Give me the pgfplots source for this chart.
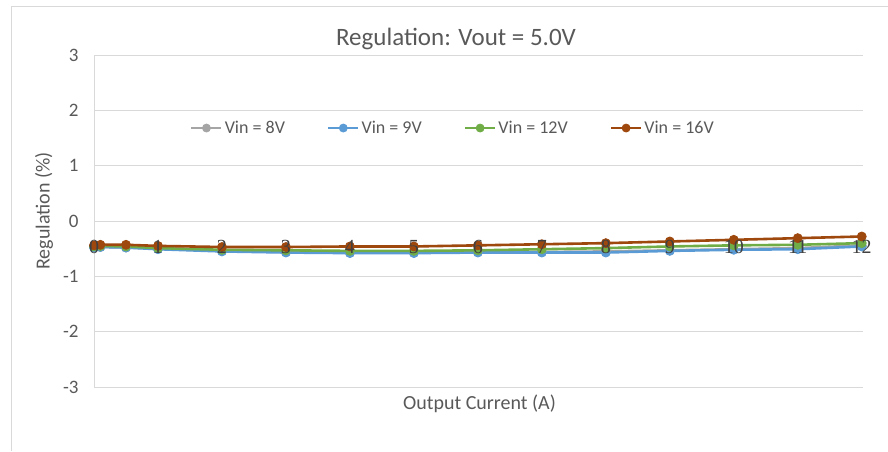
\documentclass[border=0pt]{standalone}
\usepackage{pgfplots}
\pgfplotsset{compat=1.18}
\usepackage{fontspec}
\setmainfont{Carlito}
\newfontfamily\serifx{Liberation Serif}
\definecolor{sgray}{HTML}{A5A5A5}
\definecolor{sblue}{HTML}{5B9BD5}
\definecolor{sgreen}{HTML}{70AD47}
\definecolor{sbrown}{HTML}{9E480E}
\definecolor{gridc}{HTML}{D9D9D9}
\definecolor{txt}{HTML}{595959}
\definecolor{xtxt}{HTML}{404040}
\begin{document}
\begin{tikzpicture}[x=1pt,y=1pt]
\useasboundingbox (0,0) rectangle (888,451);
\draw[gridc, line width=1pt] (11,0) -- (11,444) -- (888,444);
\node[txt, font=\fontsize{25}{30}\selectfont] at (456,412) {Regulation: Vout = 5.0V};
\node[txt, rotate=90, font=\fontsize{20}{24}\selectfont] at (44,240) {Regulation (\%)};
\node[txt, font=\fontsize{20}{24}\selectfont] at (479.5,47) {Output Current (A)};
\begin{axis}[
  at={(94pt,64pt)}, anchor=south west,
  scale only axis, width=769pt, height=332pt,
  xmin=0, xmax=12.02, ymin=-3, ymax=3,
  xtick={0,1,...,12}, xticklabels={}, ytick={-3,-2,...,3},
  separate axis lines,
  axis x line*=bottom, axis y line*=left,
  x axis line style={draw=none},
  y axis line style={draw=gridc, line width=1pt},
  major tick length=0pt,
  ymajorgrids, grid style={gridc, line width=1pt},
  yticklabel style={txt, font=\fontsize{19}{22}\selectfont, xshift=-12pt},
  /pgf/number format/assume math mode=true,
  every axis plot/.append style={line width=2.6pt, mark=*, mark size=4.5pt},
  legend style={at={(axis cs:1.5,1.68)}, anchor=west, draw=none, fill=none,
    font=\fontsize{18}{21}\selectfont, text=txt,
    /tikz/every even column/.append style={column sep=40pt},
    inner sep=0pt},
  legend columns=4,
  legend image code/.code={
    \draw[mark repeat=2,mark phase=2,#1,mark size=4pt] plot coordinates {(0pt,0pt)(15pt,0pt)(30pt,0pt)};},
]
\addplot[sgray, mark options={fill=sgray, draw=sgray, line width=0.8pt}] coordinates {
(0,-0.47)(0.1,-0.47)(0.5,-0.48)(1,-0.50)(2,-0.54)(3,-0.56)(4,-0.57)(5,-0.57)(6,-0.56)(7,-0.56)(8,-0.55)(9,-0.53)(10,-0.51)(11,-0.49)(12,-0.44)};
\addlegendentry{Vin = 8V}
\addplot[sblue, mark options={fill=sblue, draw=sblue, line width=0.8pt}] coordinates {
(0,-0.48)(0.1,-0.47)(0.5,-0.48)(1,-0.51)(2,-0.55)(3,-0.57)(4,-0.58)(5,-0.58)(6,-0.57)(7,-0.57)(8,-0.57)(9,-0.54)(10,-0.52)(11,-0.51)(12,-0.46)};
\addlegendentry{Vin = 9V}
\addplot[sgreen, mark options={fill=sgreen, draw=sgreen, line width=0.8pt}] coordinates {
(0,-0.46)(0.1,-0.45)(0.5,-0.46)(1,-0.49)(2,-0.52)(3,-0.53)(4,-0.54)(5,-0.54)(6,-0.53)(7,-0.51)(8,-0.49)(9,-0.46)(10,-0.44)(11,-0.43)(12,-0.40)};
\addlegendentry{Vin = 12V}
\addplot[sbrown, mark options={fill=sbrown, draw=sbrown, line width=0.8pt}] coordinates {
(0,-0.44)(0.1,-0.43)(0.5,-0.43)(1,-0.45)(2,-0.47)(3,-0.47)(4,-0.46)(5,-0.46)(6,-0.44)(7,-0.42)(8,-0.40)(9,-0.37)(10,-0.34)(11,-0.31)(12,-0.28)};
\addlegendentry{Vin = 16V}
\end{axis}
\foreach \i in {0,1,...,12}{
  \node[xtxt, font=\serifx\fontsize{20}{22}\selectfont, anchor=north, inner sep=0pt] at ({94+\i*769/12.02},211) {\i};
}
\end{tikzpicture}
\end{document}
